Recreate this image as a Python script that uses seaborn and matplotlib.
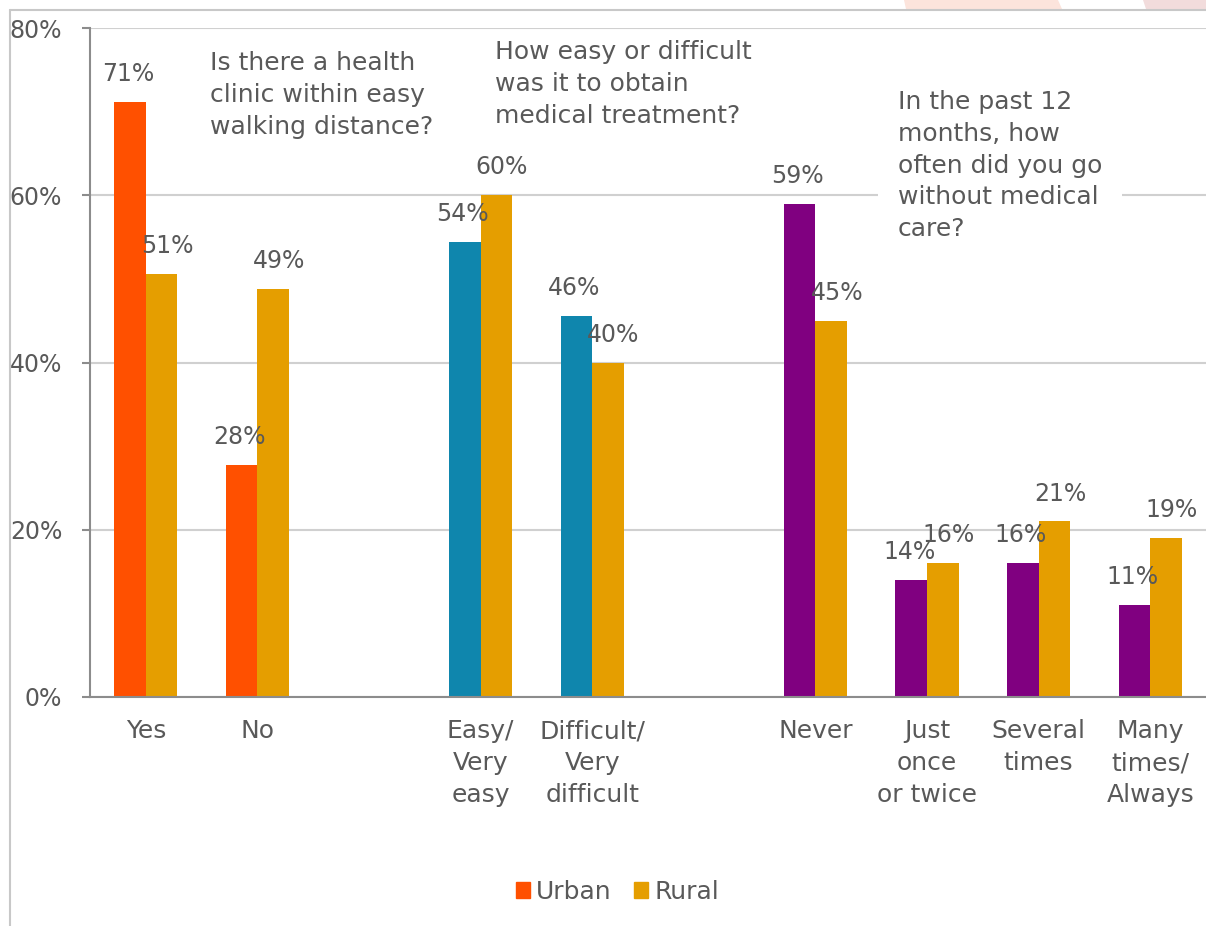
import numpy as np
import pandas as pd
import seaborn as sns
import matplotlib.pyplot as plt
from matplotlib.patches import Patch, Polygon
from matplotlib.lines import Line2D

# category slots (two empty slots separate the three questions)
keys = ["Yes", "No", "gap1", "Easy", "Difficult", "gap2",
        "Never", "Once", "Several", "Many"]
tick_labels = ["Yes", "No", "", "Easy/\nVery\neasy", "Difficult/\nVery\ndifficult", "",
               "Never", "Just\nonce\nor twice", "Several\ntimes", "Many\ntimes/\nAlways"]
urban = [71.2, 27.8, None, 54.4, 45.6, None, 59.0, 14.0, 16.0, 11.0]
rural = [50.6, 48.8, None, 60.0, 40.0, None, 45.0, 16.0, 21.0, 19.0]
# urban colour changes by question
urban_colors = ["#FF5000", "#FF5000", None, "#0F86AD", "#0F86AD", None,
                "#800080", "#800080", "#800080", "#800080"]
rural_color = "#E59E00"

questions = ["Is there a health\nclinic within easy\nwalking distance?",
             "How easy or difficult\nwas it to obtain\nmedical treatment?",
             "In the past 12\nmonths, how\noften did you go\nwithout medical\ncare?"]

rows = []
for k, u, r in zip(keys, urban, rural):
    if u is not None:
        rows.append({"cat": k, "area": "Urban", "value": u})
        rows.append({"cat": k, "area": "Rural", "value": r})
df = pd.DataFrame(rows)

sns.set_style("white")
plt.rcParams["font.family"] = ["DejaVu Sans"]
grey = "#595959"
plt.rcParams["text.color"] = grey
plt.rcParams["xtick.color"] = grey
plt.rcParams["ytick.color"] = grey

fig = plt.figure(figsize=(12.06, 9.26), dpi=100)
ax = fig.add_axes([90 / 1206, 1 - 697 / 926, 1 - 90 / 1206, (697 - 28) / 926])

sns.barplot(data=df, x="cat", y="value", hue="area", order=keys,
            hue_order=["Urban", "Rural"],
            palette={"Urban": urban_colors[0], "Rural": rural_color},
            width=0.565, saturation=1, errorbar=None, legend=False, ax=ax)

# recolour urban bars per question and add value labels
for ci, cont in enumerate(ax.containers):
    for bar in cont:
        h = bar.get_height()
        if h is None or np.isnan(h):
            continue
        xc = bar.get_x() + bar.get_width() / 2
        idx = int(round(xc))
        if ci == 0:
            bar.set_facecolor(urban_colors[idx])
            dx = -1.5
        else:
            dx = 4
        bar.set_edgecolor("none")
        ax.annotate(f"{h:.0f}%", (xc, h), xytext=(dx, 20), textcoords="offset points",
                    ha="center", va="center", fontsize=17, color=grey)

ax.set_xlim(-0.5, len(keys) - 0.5)
ax.set_ylim(0, 80)
ax.set_yticks([0, 20, 40, 60, 80])
ax.set_yticklabels([f"{v}%" for v in [0, 20, 40, 60, 80]], fontsize=17)
ax.set_xticks(range(len(keys)))
ax.set_xticklabels(tick_labels, fontsize=18)
for lab in ax.get_xticklabels():
    lab.set_linespacing(1.42)
ax.set_xticks(np.arange(-0.5, len(keys), 1), minor=True)
ax.tick_params(axis="x", which="major", length=0, pad=16)
ax.tick_params(axis="x", which="minor", length=6, width=1.5, color="#8c8c8c", direction="out")
ax.tick_params(axis="y", length=6, width=1.5, color="#8c8c8c", direction="out", pad=14,
               left=True)
ax.set_xlabel("")
ax.set_ylabel("")
ax.yaxis.grid(True, color="#d0d0d0", linewidth=1.5)
ax.set_axisbelow(True)
sns.despine(ax=ax, top=True, right=True)
for s in ["left", "bottom"]:
    ax.spines[s].set_color("#8c8c8c")
    ax.spines[s].set_linewidth(1.5)

# question texts
ax.text(0.1075, 0.966, questions[0], transform=ax.transAxes, ha="left", va="top",
        fontsize=18, color=grey, linespacing=1.42)
ax.text(0.363, 0.982, questions[1], transform=ax.transAxes, ha="left", va="top",
        fontsize=18, color=grey, linespacing=1.42)
ax.text(0.724, 0.908, questions[2], transform=ax.transAxes, ha="left", va="top",
        fontsize=18, color=grey, linespacing=1.42,
        bbox=dict(boxstyle="square,pad=0.8", facecolor="white", edgecolor="none"))

# legend
handles = [Patch(color=urban_colors[0]), Patch(color=rural_color)]
fig.legend(handles, ["Urban", "Rural"], loc="center", bbox_to_anchor=(0.512, 0.037),
           ncol=2, frameon=False, fontsize=18, handlelength=0.55, handleheight=0.6,
           handletextpad=0.25, columnspacing=0.9)

# slide frame and decoration
W, H = 1206, 926
def fx(px):
    return px / W
def fy(py):
    return 1 - py / H
fig.add_artist(Line2D([fx(10), fx(10)], [0, fy(10)], color="#c8c8c8", lw=1.5,
                      transform=fig.transFigure))
fig.add_artist(Line2D([fx(10), 1], [fy(10), fy(10)], color="#c8c8c8", lw=1.5,
                      transform=fig.transFigure))
fig.add_artist(Polygon([(fx(904), fy(0)), (fx(1058), fy(0)), (fx(1062), fy(9)), (fx(906), fy(9))],
                       closed=True, facecolor="#FCE4DC", edgecolor="none",
                       transform=fig.transFigure))
fig.add_artist(Polygon([(fx(1143), fy(0)), (1, fy(0)), (1, fy(9)), (fx(1146), fy(9))],
                       closed=True, facecolor="#F2DCDC", edgecolor="none",
                       transform=fig.transFigure))

fig.savefig("out.png", dpi=100)
